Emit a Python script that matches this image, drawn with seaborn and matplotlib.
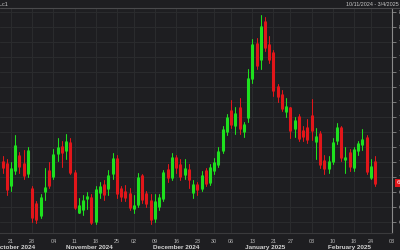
import numpy as np
import pandas as pd
import matplotlib
matplotlib.use("Agg")
import matplotlib.pyplot as plt
import matplotlib.transforms as mtrans
import seaborn as sns
import seaborn.objects as so

# ---------------- data ----------------
dates = pd.to_datetime([
    "2024-10-11", "2024-10-14", "2024-10-15", "2024-10-16", "2024-10-17", "2024-10-18",
    "2024-10-21", "2024-10-22", "2024-10-23", "2024-10-24", "2024-10-25",
    "2024-10-28", "2024-10-29", "2024-10-30", "2024-10-31", "2024-11-01",
    "2024-11-04", "2024-11-05", "2024-11-06", "2024-11-07", "2024-11-08",
    "2024-11-11", "2024-11-12", "2024-11-13", "2024-11-14", "2024-11-15",
    "2024-11-18", "2024-11-19", "2024-11-20", "2024-11-21", "2024-11-22",
    "2024-11-25", "2024-11-26", "2024-11-27", "2024-11-29",
    "2024-12-02", "2024-12-03", "2024-12-04", "2024-12-05", "2024-12-06",
    "2024-12-09", "2024-12-10", "2024-12-11", "2024-12-12", "2024-12-13",
    "2024-12-16", "2024-12-17", "2024-12-18", "2024-12-19", "2024-12-20",
    "2024-12-23", "2024-12-24", "2024-12-26", "2024-12-27",
    "2024-12-30", "2024-12-31", "2025-01-02", "2025-01-03",
    "2025-01-06", "2025-01-07", "2025-01-08", "2025-01-09", "2025-01-10",
    "2025-01-13", "2025-01-14", "2025-01-15", "2025-01-16", "2025-01-17",
    "2025-01-21", "2025-01-22", "2025-01-23", "2025-01-24",
    "2025-01-27", "2025-01-28", "2025-01-29", "2025-01-30", "2025-01-31",
    "2025-02-03", "2025-02-04", "2025-02-05", "2025-02-06", "2025-02-07",
    "2025-02-10", "2025-02-11", "2025-02-12", "2025-02-13", "2025-02-14",
    "2025-02-18", "2025-02-19", "2025-02-20", "2025-02-21",
    "2025-02-24", "2025-02-25",
])
opens = [75.8, 75.3, 73.6, 70.7, 71.0, 70.9,
         69.5, 70.5, 71.4, 70.9, 70.3,
         69.2, 68.2, 67.5, 69.1, 70.4,
         70.1, 71.6, 72.0, 71.8, 72.3,
         70.3, 67.7, 67.9, 68.6, 68.6,
         67.1, 69.0, 69.5, 69.3, 70.3,
         71.2, 69.2, 69.0, 68.9,
         67.95, 68.2, 70.1, 68.9, 68.4,
         67.3, 68.1, 68.6, 70.5, 70.0,
         71.3, 70.8, 70.2, 70.5, 69.0,
         69.5, 69.3, 70.4, 69.7,
         70.5, 70.9, 71.8, 73.1,
         74.4, 73.5, 74.6, 73.1, 74.0,
         76.6, 78.9, 77.9, 80.35, 78.8,
         78.3, 76.0, 75.5, 74.4,
         74.6, 73.3, 74.0, 73.1, 73.3,
         74.1, 72.4, 72.9, 71.1, 70.6,
         71.1, 72.5, 73.3, 71.2, 71.6,
         70.7, 71.8, 72.2, 72.6,
         70.0, 71.0]
highs = [76.2, 75.5, 73.9, 71.2, 71.4, 71.2,
         71.0, 72.8, 71.7, 71.8, 72.0,
         69.4, 68.4, 68.9, 70.6, 71.0,
         71.9, 72.6, 72.4, 72.9, 72.6,
         70.5, 68.6, 68.8, 69.0, 68.9,
         69.4, 69.7, 69.8, 70.5, 71.6,
         71.5, 69.4, 69.5, 69.3,
         68.8, 70.3, 70.2, 69.1, 68.9,
         68.9, 68.9, 70.5, 70.9, 71.6,
         71.5, 71.2, 71.2, 70.9, 69.8,
         69.7, 70.4, 70.6, 70.9,
         71.3, 72.0, 73.4, 74.2,
         75.15, 74.7, 75.3, 73.7, 77.2,
         79.2, 79.3, 80.8, 80.7, 79.4,
         78.5, 76.2, 75.8, 75.3,
         74.7, 74.0, 74.2, 73.4, 73.9,
         75.2, 73.3, 73.1, 71.5, 71.4,
         72.6, 73.6, 73.4, 72.0, 71.9,
         72.0, 72.4, 73.2, 72.8,
         71.2, 71.4]
lows = [75.0, 73.4, 70.2, 70.0, 70.3, 68.8,
        69.1, 70.2, 70.3, 69.9, 70.0,
        67.0, 66.95, 67.3, 68.5, 69.3,
        69.9, 71.1, 70.7, 71.2, 70.2,
        67.9, 67.6, 67.5, 67.9, 66.9,
        66.9, 68.6, 68.5, 68.8, 69.9,
        68.6, 68.4, 68.4, 67.8,
        67.6, 68.0, 68.3, 68.0, 66.9,
        67.0, 67.8, 68.4, 69.7, 69.8,
        70.3, 69.8, 69.9, 69.3, 68.6,
        68.8, 69.1, 69.4, 69.5,
        70.2, 70.7, 71.6, 72.8,
        73.3, 72.9, 72.9, 72.7, 73.7,
        76.3, 77.2, 77.2, 78.4, 77.6,
        75.4, 75.0, 74.4, 74.0,
        72.6, 72.7, 72.4, 72.4, 72.3,
        72.5, 71.2, 70.6, 70.2, 70.3,
        70.9, 72.2, 71.1, 70.3, 70.4,
        70.4, 71.5, 71.8, 70.2,
        69.9, 69.4]
closes = [75.56, 73.83, 70.58, 70.39, 70.67, 69.22,
          70.56, 72.09, 70.77, 70.19, 71.78,
          67.38, 67.21, 68.61, 69.26, 69.49,
          71.47, 71.99, 71.69, 72.36, 70.38,
          68.04, 68.12, 68.43, 68.70, 67.02,
          69.16, 69.39, 68.87, 70.10, 71.24,
          68.94, 68.77, 68.72, 68.00,
          68.10, 69.94, 68.54, 68.30, 67.20,
          68.37, 68.59, 70.29, 70.02, 71.29,
          70.71, 70.08, 70.58, 69.91, 69.46,
          69.24, 70.10, 69.62, 70.60,
          70.99, 71.72, 73.13, 73.96,
          73.56, 74.25, 73.32, 73.50, 76.57,
          78.82, 77.50, 80.04, 78.68, 77.88,
          75.83, 75.44, 74.62, 74.66,
          73.17, 73.77, 72.62, 72.73, 72.53,
          73.16, 72.70, 70.90, 70.61, 71.00,
          72.32, 73.32, 71.37, 71.29, 70.74,
          71.85, 72.25, 72.48, 70.40,
          70.70, 69.63]

# chart window trading days after the last candle (empty part of the axis)
future_days = pd.to_datetime(["2025-02-26", "2025-02-27", "2025-02-28", "2025-03-03", "2025-03-04"])
tick_days = pd.to_datetime([
    "2024-10-21", "2024-10-28", "2024-11-04", "2024-11-11", "2024-11-18", "2024-11-25",
    "2024-12-02", "2024-12-09", "2024-12-16", "2024-12-23", "2024-12-30",
    "2025-01-06", "2025-01-13", "2025-01-21", "2025-01-27",
    "2025-02-03", "2025-02-10", "2025-02-18", "2025-02-24", "2025-03-03",
])
month_names = ["October 2024", "November 2024", "December 2024", "January 2025", "February 2025"]
symbol = "CLc1"
range_text = "10/11/2024 - 3/4/2025"

# ---------------- style ----------------
BG = "#1e1e21"
GRID = "#2a2b2d"
AXC = "#8a8a8a"
GREEN = "#1ee01e"
RED = "#e2161a"
TXT = "#b9b9b9"

sns.set_theme(style="dark", rc={"axes.facecolor": BG, "figure.facecolor": BG})
plt.rcParams["font.family"] = ["Liberation Sans", "DejaVu Sans"]

W, H = 400, 250
fig = plt.figure(figsize=(W / 100, H / 100), dpi=100, facecolor=BG)
ax = fig.add_axes([0, 17 / H, 392 / W, 225 / H])
ax.set_facecolor(BG)

all_days = list(dates) + list(future_days)
day_pos = {d: i for i, d in enumerate(all_days)}

df = pd.DataFrame({"pos": np.arange(len(dates)), "open": opens, "high": highs,
                   "low": lows, "close": closes})
df["dir"] = np.where(df["close"] >= df["open"], "up", "down")
df["blo"] = df[["open", "close"]].min(axis=1)
df["bhi"] = np.maximum(df[["open", "close"]].max(axis=1), df["blo"] + 0.06)

(
    so.Plot(df, x="pos", color="dir")
    .add(so.Range(linewidth=0.75), ymin="low", ymax="high", legend=False)
    .add(so.Range(linewidth=2.2), ymin="blo", ymax="bhi", legend=False)
    .scale(color={"up": GREEN, "down": RED})
    .on(ax)
    .plot()
)

# ---------------- axes layout ----------------
x0 = day_pos[pd.Timestamp("2024-10-21")] - 11 / 4.233
x1 = day_pos[pd.Timestamp("2025-03-03")]
ax.set_xlim(x0, x1)
ylo, yhi = 66.29, 81.29
ax.set_ylim(ylo, yhi)
ax.set_xlabel("")
ax.set_ylabel("")
ax.set_facecolor(BG)

tick_pos = [day_pos[d] for d in tick_days]
for tp in tick_pos:
    ax.axvline(tp, color=GRID, lw=0.8, zorder=0)
for yv in range(67, 82):
    ax.axhline(yv, color=GRID, lw=0.8, zorder=0)
ax.grid(False)

for s in ["left", "top"]:
    ax.spines[s].set_visible(False)
ax.spines["right"].set_color(AXC)
ax.spines["right"].set_linewidth(0.8)
ax.spines["bottom"].set_color("#3a3a3c")
ax.spines["bottom"].set_linewidth(0.8)

ax.set_xticks(tick_pos)
ax.set_xticklabels([d.strftime("%d") for d in tick_days])
ax.tick_params(axis="x", which="major", length=3, width=0.6, color="#555555",
               labelsize=3.9, labelcolor=TXT, pad=1.5)

# month separators as minor ticks
month_starts = []
prev = None
for d in all_days:
    if prev is not None and d.month != prev.month:
        month_starts.append(day_pos[d] - 0.5)
    prev = d
month_starts.append(x1)
ax.set_xticks(month_starts, minor=True)
ax.tick_params(axis="x", which="minor", length=13, width=0.7, color="#6a6a6a")

ax.yaxis.tick_right()
ax.set_yticks(range(67, 82))
ax.set_yticklabels([f"{v:.2f}" for v in range(67, 82)])
ax.tick_params(axis="y", length=3, width=0.6, color=AXC, labelsize=4.5,
               labelcolor=TXT, pad=2)

# month labels
bounds = [x0 - 4] + month_starts
trans = mtrans.blended_transform_factory(ax.transData, ax.transAxes)
for k, name in enumerate(month_names):
    cx = (max(bounds[k], -0.5) + bounds[k + 1]) / 2
    ax.text(cx, -14.5 / 225, name, transform=trans, ha="center", va="center",
            fontsize=4.6, fontweight="bold", color="#d4d4d4")

# last price tag
ytrans = mtrans.blended_transform_factory(ax.transAxes, ax.transData)
ax.text(1.0 + 5 / 392, closes[-1], f"{closes[-1]:.2f}", transform=ytrans,
        ha="left", va="center", fontsize=4.5, color="white",
        bbox=dict(boxstyle="square,pad=0.25", fc=RED, ec="none"), clip_on=False)

# header
fig.add_artist(plt.Line2D([0, 1], [1 - 8 / H, 1 - 8 / H], color="#4a4a4c", lw=0.8))
fig.text(-4 / W, 1 - 4.5 / H, symbol, ha="left", va="center", fontsize=4.0, color="#c8c8c8")
fig.text(399 / W, 1 - 4.5 / H, range_text, ha="right", va="center", fontsize=3.9, color="#c8c8c8")

fig.savefig("out.png", dpi=100, facecolor=BG)
